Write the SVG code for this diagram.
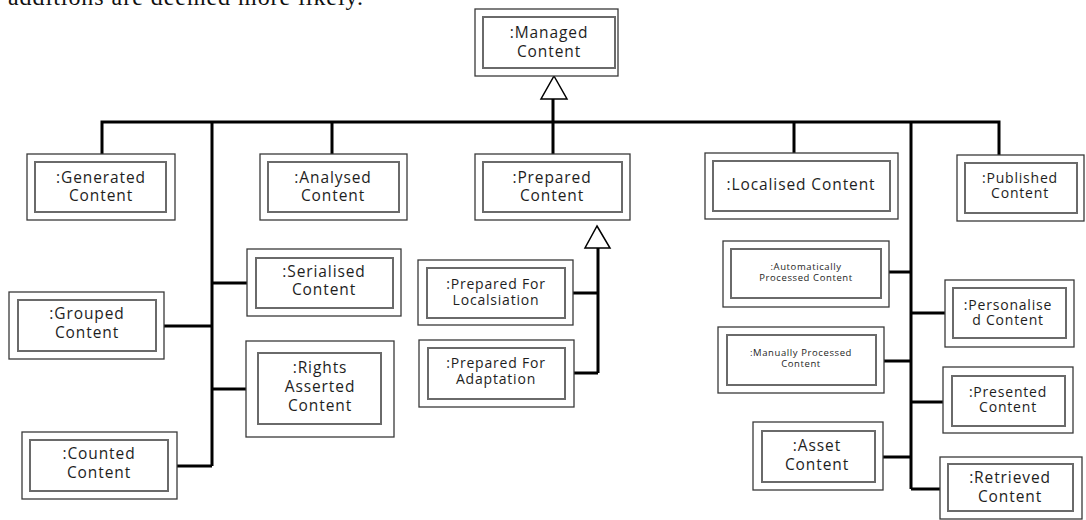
<svg xmlns="http://www.w3.org/2000/svg" width="1086" height="520" viewBox="0 0 1086 520">
<style>
.o{fill:#fff;stroke:#3a3a3a;stroke-width:1.3}
.i{fill:#fff;stroke:#6a6a6a;stroke-width:2}
.t{font-family:"Open Sans","Liberation Sans",sans-serif;font-size:15.5px;letter-spacing:0.9px;fill:#1e1e1e;text-anchor:middle}
.m{font-size:14px;letter-spacing:0.8px}
.s{font-size:9.5px;letter-spacing:0.6px}
.c{fill:none;stroke:#000;stroke-width:3;stroke-linejoin:miter;stroke-linecap:butt}
.tri{fill:#fff;stroke:#000;stroke-width:1.5}
.cap{font-family:"Liberation Serif",serif;font-size:24px;fill:#111}
</style>
<text class="cap" x="8" y="5" textLength="355">additions are deemed more likely.</text>
<g id="connectors">
<path class="c" d="M102,154 V122 H999 V155 M212,122 V466 M332,122 V154 M553,99 V154 M794,122 V153 M911,122 V489"/>
<path class="c" d="M212,283 H247 M164,326 H212 M212,389 H246 M177,466 H212"/>
<path class="c" d="M598,248 V373 M573,293 H598 M574,373 H598"/>
<path class="c" d="M889,272 H911 M911,313 H945 M884,361 H911 M911,402 H943 M883,457 H911 M911,489 H940"/>
<polygon class="tri" points="554,76 567,99 541,99"/>
<polygon class="tri" points="597,226 610,248 585,248"/>
</g>
<g id="managed"><rect class="o" x="475" y="9" width="143" height="67"/><rect class="i" x="483" y="17" width="132" height="51"/><text class="t" x="549" y="38">:Managed</text><text class="t" x="549" y="57">Content</text></g>
<g id="generated"><rect class="o" x="27" y="154" width="148" height="66"/><rect class="i" x="35" y="162" width="131" height="50"/><text class="t" x="101" y="183">:Generated</text><text class="t" x="101" y="201">Content</text></g>
<g id="analysed"><rect class="o" x="260" y="154" width="147" height="66"/><rect class="i" x="268" y="162" width="131" height="50"/><text class="t" x="333" y="183">:Analysed</text><text class="t" x="333" y="201">Content</text></g>
<g id="prepared"><rect class="o" x="475" y="154" width="155" height="66"/><rect class="i" x="483" y="162" width="139" height="50"/><text class="t" x="552" y="183">:Prepared</text><text class="t" x="552" y="201">Content</text></g>
<g id="localised"><rect class="o" x="705" y="153" width="193" height="66"/><rect class="i" x="713" y="161" width="177" height="50"/><text class="t" x="801" y="190">:Localised Content</text></g>
<g id="published"><rect class="o" x="957" y="155" width="127" height="66"/><rect class="i" x="965" y="163" width="112" height="50"/><text class="t m" x="1020" y="183">:Published</text><text class="t m" x="1020" y="198">Content</text></g>
<g id="serialised"><rect class="o" x="247" y="249" width="154" height="67"/><rect class="i" x="256" y="258" width="137" height="50"/><text class="t" x="324" y="277">:Serialised</text><text class="t" x="324" y="295">Content</text></g>
<g id="grouped"><rect class="o" x="9" y="292" width="155" height="67"/><rect class="i" x="18" y="300" width="138" height="51"/><text class="t" x="87" y="319">:Grouped</text><text class="t" x="87" y="338">Content</text></g>
<g id="rights"><rect class="o" x="246" y="341" width="148" height="96"/><rect class="i" x="258" y="353" width="123" height="71"/><text class="t" x="320" y="373">:Rights</text><text class="t" x="320" y="392">Asserted</text><text class="t" x="320" y="411">Content</text></g>
<g id="counted"><rect class="o" x="22" y="432" width="155" height="67"/><rect class="i" x="30" y="440" width="138" height="51"/><text class="t" x="99" y="459">:Counted</text><text class="t" x="99" y="478">Content</text></g>
<g id="prepLoc"><rect class="o" x="418" y="260" width="155" height="65"/><rect class="i" x="427" y="268" width="138" height="50"/><text class="t m" x="496" y="289">:Prepared For</text><text class="t m" x="496" y="305">Localsiation</text></g>
<g id="prepAdapt"><rect class="o" x="419" y="340" width="155" height="67"/><rect class="i" x="428" y="348" width="137" height="51"/><text class="t m" x="496" y="368">:Prepared For</text><text class="t m" x="496" y="384">Adaptation</text></g>
<g id="auto"><rect class="o" x="723" y="241" width="166" height="66"/><rect class="i" x="731" y="249" width="150" height="49"/><text class="t s" x="806" y="270">:Automatically</text><text class="t s" x="806" y="281">Processed Content</text></g>
<g id="personalised"><rect class="o" x="945" y="280" width="129" height="67"/><rect class="i" x="953" y="288" width="113" height="50"/><text class="t m" x="1008" y="310">:Personalise</text><text class="t m" x="1008" y="325">d Content</text></g>
<g id="manual"><rect class="o" x="718" y="327" width="166" height="66"/><rect class="i" x="727" y="335" width="149" height="50"/><text class="t s" x="801" y="356">:Manually Processed</text><text class="t s" x="801" y="367">Content</text></g>
<g id="presented"><rect class="o" x="943" y="367" width="130" height="66"/><rect class="i" x="952" y="376" width="113" height="50"/><text class="t m" x="1008" y="397">:Presented</text><text class="t m" x="1008" y="412">Content</text></g>
<g id="asset"><rect class="o" x="753" y="422" width="130" height="68"/><rect class="i" x="762" y="431" width="113" height="51"/><text class="t" x="817" y="451">:Asset</text><text class="t" x="817" y="470">Content</text></g>
<g id="retrieved"><rect class="o" x="940" y="457" width="142" height="62"/><rect class="i" x="948" y="464" width="125" height="47"/><text class="t" x="1010" y="483">:Retrieved</text><text class="t" x="1010" y="502">Content</text></g>
</svg>
